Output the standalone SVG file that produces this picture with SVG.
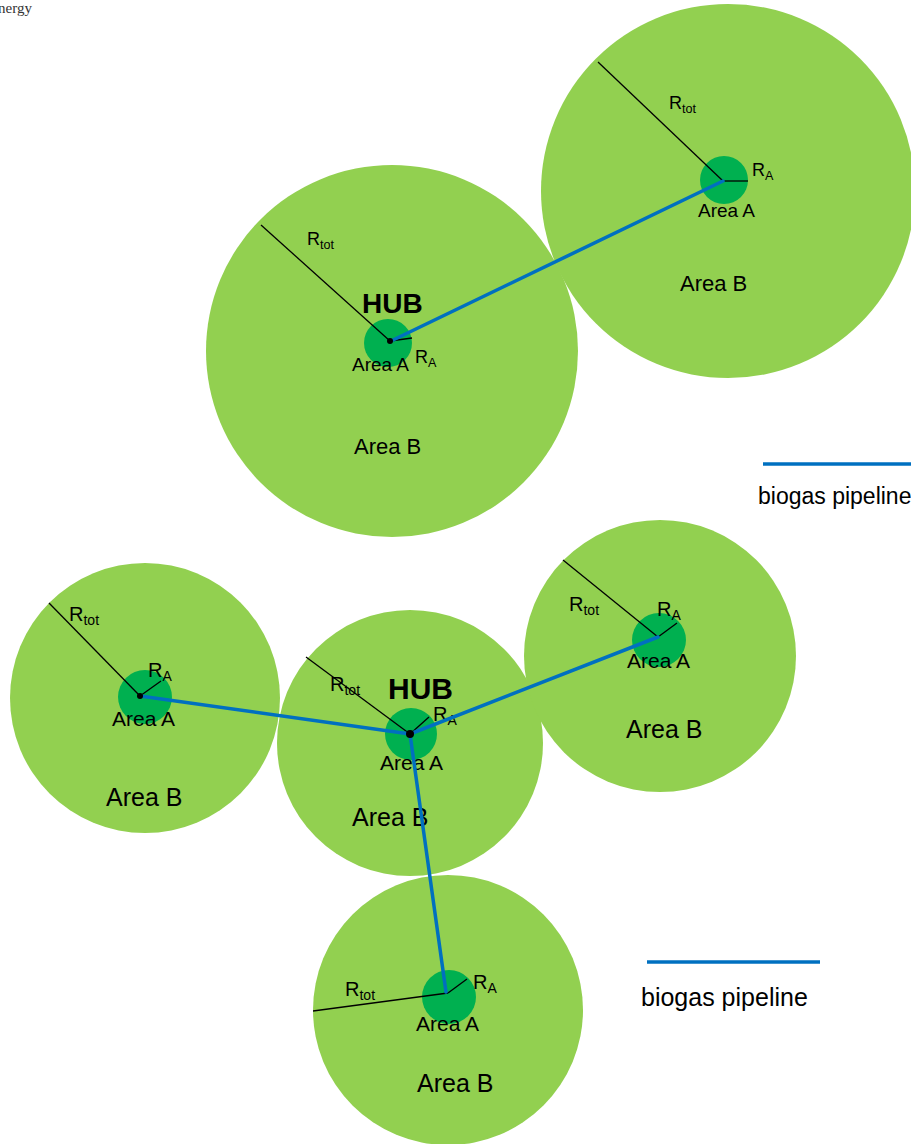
<svg xmlns="http://www.w3.org/2000/svg" width="911" height="1144" viewBox="0 0 911 1144">
  <style>
    .outer { fill: #92d050; }
    .inner { fill: #00b050; }
    .radius { stroke: #000; stroke-width: 1.3; fill: none; }
    .pipe { stroke: #0070c0; stroke-width: 3.5; fill: none; stroke-linecap: round; }
    .legend { stroke: #0070c0; stroke-width: 3.5; }
    .dot { fill: #000; }
    text { font-family: "Liberation Sans", Arial, sans-serif; fill: #000; }
    .t1 .lbl { font-size: 18px; }
    .t1 .aa { font-size: 19px; }
    .t1 .area { font-size: 22px; }
    .t1 .hub { font-size: 28px; font-weight: bold; }
    .t2 .lbl { font-size: 20px; }
    .t2 .aa { font-size: 21px; }
    .t2 .area { font-size: 25px; }
    .t2 .hub { font-size: 30px; font-weight: bold; }
    .sub { font-size: 0.7em; }
    .key { font-size: 25px; }
  </style>

  <rect width="911" height="1144" fill="#fff"/>
  <text x="-2" y="13" style="font-family: 'Liberation Serif', serif; font-size: 15px; fill: #333;">nergy</text>

  <!-- Upper layout: hub plus one satellite -->
  <g class="t1">
    <g id="hub1">
      <circle class="outer" cx="392" cy="351" r="186"/>
      <circle class="inner" cx="388" cy="343" r="24"/>
      <line class="radius" x1="261" y1="225" x2="390" y2="341"/>
      <line class="radius" x1="390" y1="341" x2="412" y2="338"/>
      <text class="lbl" x="307" y="245">R<tspan class="sub" dy="4">tot</tspan></text>
      <text class="hub" x="362" y="313">HUB</text>
      <text class="aa" x="352" y="371">Area A</text>
      <text class="lbl" x="415" y="363">R<tspan class="sub" dy="4">A</tspan></text>
      <text class="area" x="354" y="454">Area B</text>
    </g>
    <g id="sat1">
      <circle class="outer" cx="728" cy="191" r="187"/>
      <circle class="inner" cx="724" cy="180" r="24"/>
      <line class="radius" x1="598" y1="62" x2="723" y2="181"/>
      <line class="radius" x1="723" y1="181" x2="748" y2="181"/>
      <text class="lbl" x="669" y="109">R<tspan class="sub" dy="4">tot</tspan></text>
      <text class="lbl" x="752" y="176">R<tspan class="sub" dy="4">A</tspan></text>
      <text class="aa" x="698" y="217">Area A</text>
      <text class="area" x="680" y="291">Area B</text>
    </g>
    <g id="connectors1">
      <line class="pipe" x1="391" y1="341" x2="723" y2="181"/>
    </g>
    <circle class="dot" cx="390" cy="341" r="3"/>
    <g id="legend1">
      <line class="legend" x1="763" y1="464" x2="911" y2="464"/>
      <text class="key" x="758" y="504" style="font-size: 23px;">biogas pipeline</text>
    </g>
  </g>

  <!-- Lower layout: hub plus three satellites -->
  <g class="t2">
    <g id="sat-left">
      <circle class="outer" cx="145" cy="698" r="135"/>
      <circle class="inner" cx="145" cy="697" r="27"/>
      <line class="radius" x1="49" y1="603" x2="140" y2="696"/>
      <line class="radius" x1="140" y1="696" x2="161" y2="681"/>
      <text class="lbl" x="69" y="621">R<tspan class="sub" dy="4">tot</tspan></text>
      <text class="lbl" x="148" y="677">R<tspan class="sub" dy="4">A</tspan></text>
      <text class="aa" x="112" y="726">Area A</text>
      <text class="area" x="106" y="806">Area B</text>
    </g>
    <g id="hub2">
      <circle class="outer" cx="410" cy="743" r="133"/>
      <circle class="inner" cx="411" cy="734" r="26"/>
      <line class="radius" x1="306" y1="657" x2="410" y2="734"/>
      <line class="radius" x1="410" y1="734" x2="429" y2="717"/>
      <text class="lbl" x="330" y="691">R<tspan class="sub" dy="4">tot</tspan></text>
      <text class="hub" x="388" y="699">HUB</text>
      <text class="lbl" x="433" y="721">R<tspan class="sub" dy="4">A</tspan></text>
      <text class="aa" x="380" y="770">Area A</text>
      <text class="area" x="352" y="826">Area B</text>
    </g>
    <g id="sat-right">
      <circle class="outer" cx="660" cy="656" r="136"/>
      <circle class="inner" cx="659" cy="640" r="27"/>
      <line class="radius" x1="563" y1="560" x2="658" y2="637"/>
      <line class="radius" x1="658" y1="637" x2="677" y2="623"/>
      <text class="lbl" x="569" y="611">R<tspan class="sub" dy="4">tot</tspan></text>
      <text class="lbl" x="657" y="616">R<tspan class="sub" dy="4">A</tspan></text>
      <text class="aa" x="627" y="668">Area A</text>
      <text class="area" x="626" y="738">Area B</text>
    </g>
    <g id="sat-bottom">
      <circle class="outer" cx="448" cy="1010" r="135"/>
      <circle class="inner" cx="449" cy="997" r="27"/>
      <line class="radius" x1="313" y1="1011" x2="448" y2="993"/>
      <line class="radius" x1="448" y1="993" x2="467" y2="979"/>
      <text class="lbl" x="345" y="996">R<tspan class="sub" dy="4">tot</tspan></text>
      <text class="lbl" x="473" y="989">R<tspan class="sub" dy="4">A</tspan></text>
      <text class="aa" x="416" y="1031">Area A</text>
      <text class="area" x="417" y="1092">Area B</text>
    </g>
    <g id="connectors2">
      <line class="pipe" x1="410" y1="734" x2="140" y2="696"/>
      <line class="pipe" x1="410" y1="734" x2="658" y2="637"/>
      <line class="pipe" x1="410" y1="734" x2="446" y2="992"/>
    </g>
    <circle class="dot" cx="140" cy="696" r="3"/>
    <circle class="dot" cx="410" cy="734" r="4"/>
    <g id="legend2">
      <line class="legend" x1="647" y1="962" x2="820" y2="962"/>
      <text class="key" x="641" y="1006">biogas pipeline</text>
    </g>
  </g>
</svg>
